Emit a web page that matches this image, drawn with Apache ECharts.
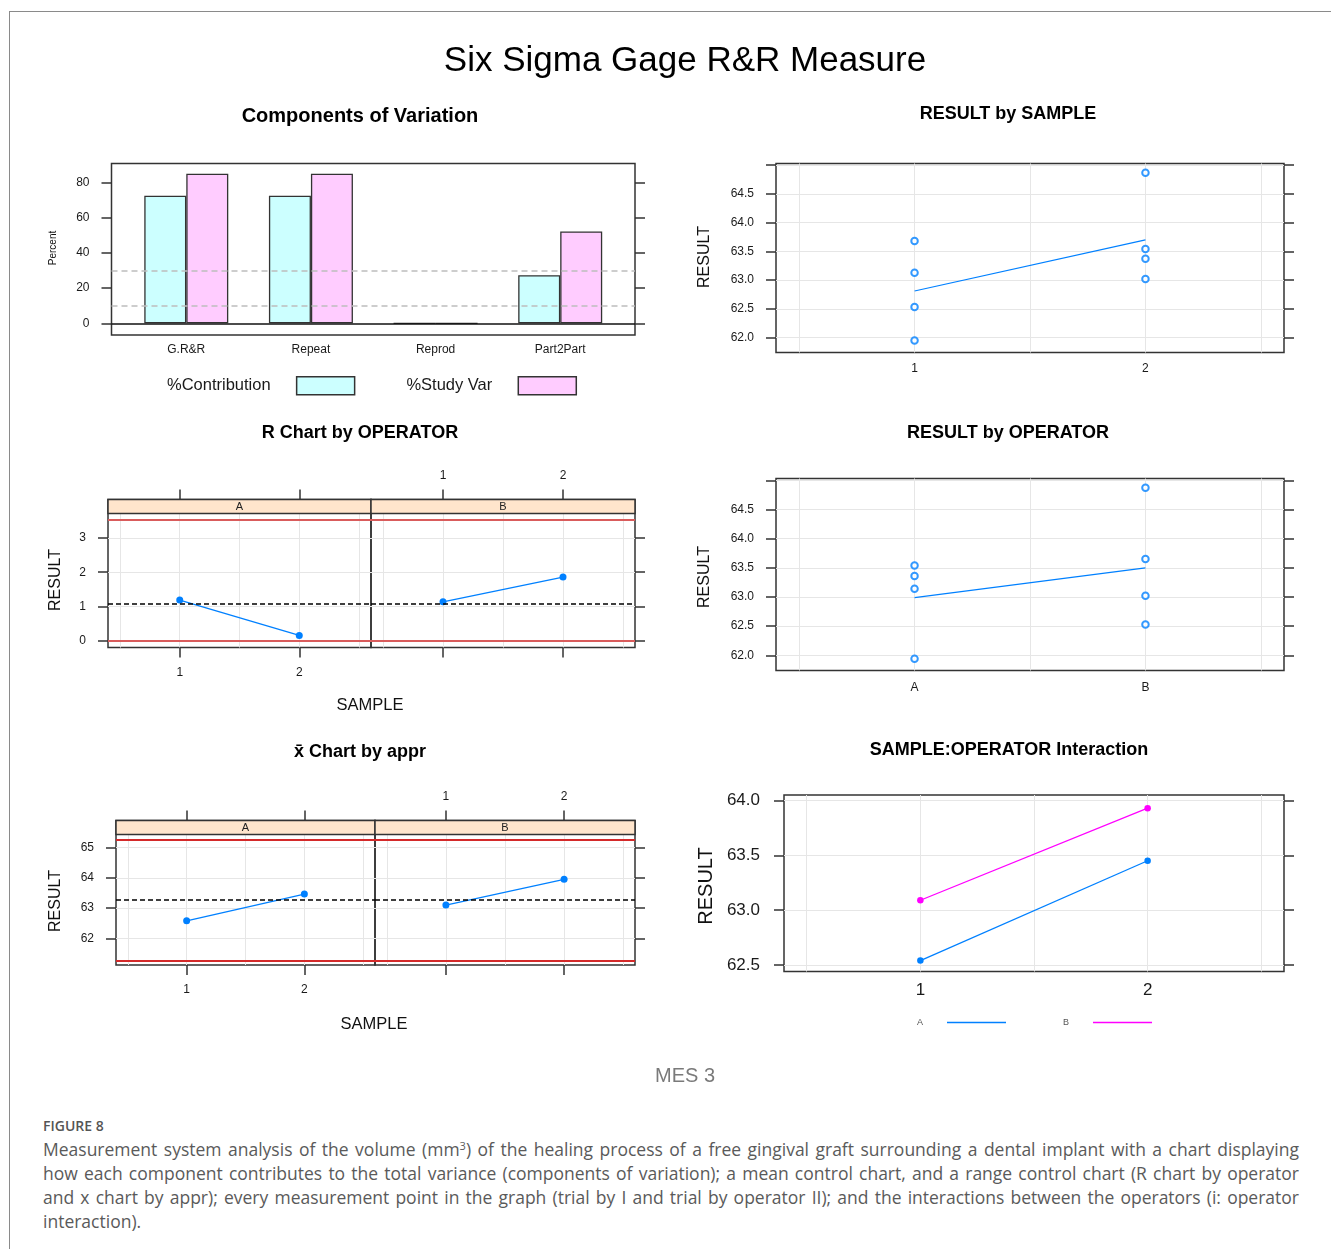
<!DOCTYPE html>
<html>
<head>
<meta charset="utf-8">
<script src="https://cdn.jsdelivr.net/npm/echarts/dist/echarts.min.js"></script>
<style>
  html, body { margin: 0; padding: 0; background: #fff; }
  body { width: 1331px; height: 1249px; position: relative; overflow: hidden; }
  #frame { position: absolute; left: 9px; top: 11px; right: -2px; bottom: -2px;
           border-top: 1px solid #8a8a8a; border-left: 1px solid #8a8a8a; }
  #chart { position: absolute; left: 0; top: 0; width: 1331px; height: 1100px; }
  #cap { position: absolute; left: 43px; top: 1116px; width: 1256px;
         font-family: 'Open Sans', 'Noto Sans', sans-serif; color: #5a5a5a; }
  #cap .fig { font-size: 14px; font-weight: 600; line-height: 20px; height: 21px; color: #555; }
  #cap .ln { font-size: 17.5px; line-height: 24px; height: 24px; text-align: justify; text-align-last: justify; }
  #cap .ln.last { text-align-last: left; }
  #cap sup { font-size: 11px; line-height: 0; vertical-align: 6px; }
</style>
</head>
<body>
<div id="frame"></div>
<div id="chart"></div>
<div id="cap">
  <div class="fig">FIGURE 8</div>
  <div class="ln">Measurement system analysis of the volume (mm<sup>3</sup>) of the healing process of a free gingival graft surrounding a dental implant with a chart displaying</div>
  <div class="ln">how each component contributes to the total variance (components of variation); a mean control chart, and a range control chart (R chart by operator</div>
  <div class="ln">and x chart by appr); every measurement point in the graph (trial by I and trial by operator II); and the interactions between the operators (i: operator</div>
  <div class="ln last">interaction).</div>
</div>
<script>
// ---------------- DATA ----------------
const componentNames = ['G.R&R', 'Repeat', 'Reprod', 'Part2Part'];
const pctContribution = [72.6, 72.6, 0, 27.4];
const pctStudyVar = [85.2, 85.2, 0, 52.3];
const percentTicks = [0, 20, 40, 60, 80];
const percentGuides = [10, 30];

const sampleLabels = ['1', '2'];
const operatorLabels = ['A', 'B'];

const sample1Results = [63.68, 63.13, 62.53, 61.95];
const sample2Results = [64.87, 63.54, 63.37, 63.02];
const sampleMeans = [62.81, 63.70];

const operatorAResults = [63.54, 63.36, 63.14, 61.94];
const operatorBResults = [64.87, 63.65, 63.02, 62.53];
const operatorMeans = [62.99, 63.50];

const resultTicks = [62.0, 62.5, 63.0, 63.5, 64.0, 64.5, 65.0];
const resultTickLabels = [62.0, 62.5, 63.0, 63.5, 64.0, 64.5];

const rangeA = [1.19, 0.16];
const rangeB = [1.14, 1.86];
const rangeLCL = 0;
const rangeCenter = 1.09;
const rangeUCL = 3.52;
const rangeTicks = [0, 1, 2, 3];

const xbarA = [62.58, 63.46];
const xbarB = [63.10, 63.95];
const xbarLCL = 61.25;
const xbarCenter = 63.27;
const xbarUCL = 65.26;
const xbarTicks = [62, 63, 64, 65];

const interactionA = [62.54, 63.45];
const interactionB = [63.09, 63.93];
const interactionTicks = [62.5, 63.0, 63.5, 64.0];

const sampleTicks = [1, 2];
const sampleGridValues = [0.5, 1, 1.5, 2, 2.5];

// ---------------- LAYOUT ----------------
const FONT = "'Liberation Sans', Arial, sans-serif";
const BLUE = '#0080ff';
const MAGENTA = '#ff00ff';
const STRIP = 14;
const G = {
  p1: { left: 111.5, top: 163.5, width: 523.5, height: 171.5 },
  p2: { left: 776, top: 163.5, width: 508, height: 189 },
  rA: { left: 108, top: 499.5, width: 263, height: 148 },
  rB: { left: 371, top: 499.5, width: 264, height: 148 },
  p4: { left: 776, top: 478.5, width: 508, height: 192 },
  xA: { left: 116, top: 820.5, width: 259, height: 144.5 },
  xB: { left: 375, top: 820.5, width: 260, height: 144.5 },
  p6: { left: 784, top: 795, width: 500, height: 176.5 }
};
const gridOrder = ['p1', 'p2', 'rA', 'rB', 'p4', 'xA', 'xB', 'p6'];
const gi = k => gridOrder.indexOf(k);

const X_EXT = [0.4, 2.6];
const P1_X = [0.4, 4.6];
const P1_Y = [-6.66, 91.0];
const RES_Y = [61.74, 65.03];
const R_Y = [-0.19, 4.117];
const XB_Y = [61.12, 65.89];
const P6_Y = [62.44, 64.05];

function ax(grid, ext, pos, o) {
  o = o || {};
  return {
    type: 'value', gridIndex: gi(grid), min: ext[0], max: ext[1], position: pos,
    axisLine: { show: false, onZero: false },
    axisTick: o.ticks ? { show: o.tickShow !== false, customValues: o.ticks, length: 10, inside: false,
                          lineStyle: { color: '#333', width: 1.5 } } : { show: false },
    axisLabel: o.labels ? { show: true, customValues: o.labels, formatter: o.fmt, margin: o.margin,
                            fontSize: o.fs || 12, color: '#1a1a1a', fontFamily: FONT } : { show: false },
    splitLine: o.split ? { show: true, lineStyle: { color: '#e6e6e6', width: 1 } } : { show: false }
  };
}
const fmt1 = v => Number(v).toFixed(1);
const fmtInt = v => String(Math.round(v));

const xAxes = [
  ax('p1', P1_X, 'bottom', { labels: [1, 2, 3, 4], fmt: v => componentNames[Math.round(v) - 1], margin: 9, fs: 12 }),   //0
  ax('p2', X_EXT, 'bottom', { ticks: sampleGridValues, tickShow: false, split: true,
                               labels: sampleTicks, fmt: v => sampleLabels[Math.round(v) - 1], margin: 10, fs: 12 }), //1
  ax('rA', X_EXT, 'bottom', { ticks: sampleTicks, labels: sampleTicks, fmt: v => sampleLabels[Math.round(v) - 1], margin: 19 }), //2
  ax('rA', X_EXT, 'top', { ticks: sampleTicks }),                                                                     //3
  ax('rA', X_EXT, 'bottom', { ticks: sampleGridValues, tickShow: false, split: true }),                                //4
  ax('rB', X_EXT, 'bottom', { ticks: sampleTicks }),                                                                   //5
  ax('rB', X_EXT, 'top', { ticks: sampleTicks, labels: sampleTicks, fmt: v => sampleLabels[Math.round(v) - 1], margin: 18 }), //6
  ax('rB', X_EXT, 'bottom', { ticks: sampleGridValues, tickShow: false, split: true }),                                //7
  ax('p4', X_EXT, 'bottom', { ticks: sampleGridValues, tickShow: false, split: true,
                               labels: sampleTicks, fmt: v => operatorLabels[Math.round(v) - 1], margin: 11, fs: 12 }), //8
  ax('xA', X_EXT, 'bottom', { ticks: sampleTicks, labels: sampleTicks, fmt: v => sampleLabels[Math.round(v) - 1], margin: 19 }), //9
  ax('xA', X_EXT, 'top', { ticks: sampleTicks }),                                                                      //10
  ax('xA', X_EXT, 'bottom', { ticks: sampleGridValues, tickShow: false, split: true }),                                //11
  ax('xB', X_EXT, 'bottom', { ticks: sampleTicks }),                                                                   //12
  ax('xB', X_EXT, 'top', { ticks: sampleTicks, labels: sampleTicks, fmt: v => sampleLabels[Math.round(v) - 1], margin: 18 }), //13
  ax('xB', X_EXT, 'bottom', { ticks: sampleGridValues, tickShow: false, split: true }),                                //14
  ax('p6', X_EXT, 'bottom', { ticks: sampleGridValues, tickShow: false, split: true,
                               labels: sampleTicks, fmt: v => sampleLabels[Math.round(v) - 1], margin: 10, fs: 17 })  //15
];

const yAxes = [
  ax('p1', P1_Y, 'left', { ticks: percentTicks, labels: percentTicks, fmt: fmtInt, margin: 22, fs: 12 }),   //0
  ax('p1', P1_Y, 'right', { ticks: percentTicks }),                                                          //1
  ax('p2', RES_Y, 'left', { ticks: resultTicks, labels: resultTickLabels, fmt: fmt1, margin: 22, fs: 12, split: true }), //2
  ax('p2', RES_Y, 'right', { ticks: resultTicks }),                                                          //3
  ax('rA', R_Y, 'left', { ticks: rangeTicks, labels: rangeTicks, fmt: fmtInt, margin: 22, fs: 12, split: true }), //4
  ax('rB', R_Y, 'right', { ticks: rangeTicks, split: true }),                                                //5
  ax('p4', RES_Y, 'left', { ticks: resultTicks, labels: resultTickLabels, fmt: fmt1, margin: 22, fs: 12, split: true }), //6
  ax('p4', RES_Y, 'right', { ticks: resultTicks }),                                                          //7
  ax('xA', XB_Y, 'left', { ticks: xbarTicks, labels: xbarTicks, fmt: fmtInt, margin: 22, fs: 12, split: true }), //8
  ax('xB', XB_Y, 'right', { ticks: xbarTicks, split: true }),                                                //9
  ax('p6', P6_Y, 'left', { ticks: interactionTicks, labels: interactionTicks, fmt: fmt1, margin: 24, fs: 17, split: true }), //10
  ax('p6', P6_Y, 'right', { ticks: interactionTicks })                                                       //11
];

const grids = gridOrder.map(k => Object.assign({ show: true, borderColor: '#333', borderWidth: 1.5, containLabel: false }, G[k]));

function controlLines(lcl, center, ucl, red) {
  return {
    silent: true, symbol: 'none', label: { show: false }, animation: false,
    data: [
      { yAxis: ucl, lineStyle: { color: red, width: 2, type: 'solid' } },
      { yAxis: lcl, lineStyle: { color: red, width: 2, type: 'solid' } },
      { yAxis: center, lineStyle: { color: '#000', width: 1.5, type: [5, 3] } }
    ]
  };
}
const pts = (ys) => ys.map((y, i) => [i + 1, y]);

const series = [
  { type: 'line', name: 'guides', xAxisIndex: 0, yAxisIndex: 0, data: [], z: 1,
    markLine: { silent: true, symbol: 'none', label: { show: false },
      lineStyle: { color: '#bdbdbd', width: 1.5, type: [6, 4] },
      data: percentGuides.map(v => ({ yAxis: v })) } },
  { type: 'bar', name: '%Contribution', xAxisIndex: 0, yAxisIndex: 0, z: 3, barWidth: 42, barGap: '0%',
    data: pts(pctContribution),
    itemStyle: { color: '#ccffff', borderColor: '#333', borderWidth: 1.3 },
    markLine: { silent: true, symbol: 'none', label: { show: false },
      lineStyle: { color: '#111', width: 1.5, type: 'solid' }, data: [{ yAxis: percentTicks[0] }] } },
  { type: 'bar', name: '%Study Var', xAxisIndex: 0, yAxisIndex: 0, z: 3, barWidth: 42, barGap: '0%',
    data: pts(pctStudyVar),
    itemStyle: { color: '#ffccff', borderColor: '#333', borderWidth: 1.3 } },

  { type: 'scatter', name: 'resultBySample', xAxisIndex: 1, yAxisIndex: 2, symbol: 'emptyCircle', symbolSize: 6.5,
    itemStyle: { color: BLUE, borderWidth: 1 },
    data: sample1Results.map(v => [1, v]).concat(sample2Results.map(v => [2, v])) },
  { type: 'line', name: 'sampleMean', xAxisIndex: 1, yAxisIndex: 2, showSymbol: false, symbol: 'none',
    lineStyle: { color: BLUE, width: 1.2 }, data: pts(sampleMeans) },

  { type: 'line', name: 'rangeA', xAxisIndex: 2, yAxisIndex: 4, symbol: 'circle', symbolSize: 7,
    itemStyle: { color: BLUE }, lineStyle: { color: BLUE, width: 1.3 }, data: pts(rangeA),
    markLine: controlLines(rangeLCL, rangeCenter, rangeUCL, '#d95c5c') },
  { type: 'line', name: 'rangeB', xAxisIndex: 5, yAxisIndex: 5, symbol: 'circle', symbolSize: 7,
    itemStyle: { color: BLUE }, lineStyle: { color: BLUE, width: 1.3 }, data: pts(rangeB),
    markLine: controlLines(rangeLCL, rangeCenter, rangeUCL, '#d95c5c') },

  { type: 'scatter', name: 'resultByOperator', xAxisIndex: 8, yAxisIndex: 6, symbol: 'emptyCircle', symbolSize: 6.5,
    itemStyle: { color: BLUE, borderWidth: 1 },
    data: operatorAResults.map(v => [1, v]).concat(operatorBResults.map(v => [2, v])) },
  { type: 'line', name: 'operatorMean', xAxisIndex: 8, yAxisIndex: 6, showSymbol: false, symbol: 'none',
    lineStyle: { color: BLUE, width: 1.2 }, data: pts(operatorMeans) },

  { type: 'line', name: 'xbarA', xAxisIndex: 9, yAxisIndex: 8, symbol: 'circle', symbolSize: 7,
    itemStyle: { color: BLUE }, lineStyle: { color: BLUE, width: 1.3 }, data: pts(xbarA),
    markLine: controlLines(xbarLCL, xbarCenter, xbarUCL, '#d42a2a') },
  { type: 'line', name: 'xbarB', xAxisIndex: 12, yAxisIndex: 9, symbol: 'circle', symbolSize: 7,
    itemStyle: { color: BLUE }, lineStyle: { color: BLUE, width: 1.3 }, data: pts(xbarB),
    markLine: controlLines(xbarLCL, xbarCenter, xbarUCL, '#d42a2a') },

  { type: 'line', name: 'A', xAxisIndex: 15, yAxisIndex: 10, symbol: 'circle', symbolSize: 6.5,
    color: BLUE, itemStyle: { color: BLUE }, lineStyle: { color: BLUE, width: 1.3 }, data: pts(interactionA) },
  { type: 'line', name: 'B', xAxisIndex: 15, yAxisIndex: 10, symbol: 'circle', symbolSize: 6.5,
    color: MAGENTA, itemStyle: { color: MAGENTA }, lineStyle: { color: MAGENTA, width: 1.3 }, data: pts(interactionB) }
];

// ---------------- TEXT / STRIPS ----------------
const graphics = [];
function txt(x, y, text, font, fill, rot) {
  graphics.push({ type: 'text', x: x, y: y, rotation: rot || 0, z: 100, silent: true,
    style: { text: text, font: font, fill: fill || '#000', textAlign: 'center', textVerticalAlign: 'middle',
             align: 'center', verticalAlign: 'middle' } });
}
function strip(key, label) {
  const g = G[key];
  graphics.push({ type: 'rect', z: 50, silent: true,
    shape: { x: g.left, y: g.top, width: g.width, height: STRIP },
    style: { fill: '#ffe5cc', stroke: '#333', lineWidth: 1.5 } });
  txt(g.left + g.width / 2, g.top + STRIP / 2 + 0.5, label, '11px ' + FONT, '#222');
}
strip('rA', operatorLabels[0]); strip('rB', operatorLabels[1]);
strip('xA', operatorLabels[0]); strip('xB', operatorLabels[1]);

txt(685, 61, 'Six Sigma Gage R&R Measure', '35px ' + FONT, '#000');
txt(360, 116, 'Components of Variation', 'bold 20px ' + FONT);
txt(1008, 114, 'RESULT by SAMPLE', 'bold 18px ' + FONT);
txt(360, 433, 'R Chart by OPERATOR', 'bold 18px ' + FONT);
txt(1008, 433, 'RESULT by OPERATOR', 'bold 18px ' + FONT);
txt(360, 752, 'x\u0304 Chart by appr', 'bold 18px ' + FONT);
txt(1009, 750, 'SAMPLE:OPERATOR Interaction', 'bold 18px ' + FONT);
txt(370, 705, 'SAMPLE', '16.5px ' + FONT, '#111');
txt(374, 1024, 'SAMPLE', '16.5px ' + FONT, '#111');
txt(685, 1076, 'MES 3', '20px ' + FONT, '#7a7a7a');
txt(53, 248, 'Percent', '10px ' + FONT, '#111', Math.PI / 2);
txt(705, 257, 'RESULT', '16px ' + FONT, '#111', Math.PI / 2);
txt(56, 580, 'RESULT', '16px ' + FONT, '#111', Math.PI / 2);
txt(705, 577, 'RESULT', '16px ' + FONT, '#111', Math.PI / 2);
txt(56, 901, 'RESULT', '16px ' + FONT, '#111', Math.PI / 2);
txt(706, 886, 'RESULT', '20px ' + FONT, '#111', Math.PI / 2);

const option = {
  animation: false,
  backgroundColor: 'transparent',
  grid: grids,
  xAxis: xAxes,
  yAxis: yAxes,
  legend: [
    { data: ['%Contribution', '%Study Var'], left: 167, top: 376, padding: 0, orient: 'horizontal', align: 'right',
      itemWidth: 58, itemHeight: 18, itemGap: 51, icon: 'rect', selectedMode: false,
      itemStyle: { borderColor: '#333', borderWidth: 1.5 },
      textStyle: { fontSize: 16.5, fontFamily: FONT, color: '#1a1a1a', padding: [0, 21, 0, 0] } },
    { data: ['A', 'B'], left: 917, top: 1018, padding: 0, orient: 'horizontal', align: 'right',
      itemWidth: 59, itemHeight: 1.5, itemGap: 57, icon: 'rect', selectedMode: false,
      itemStyle: { borderWidth: 0 },
      textStyle: { fontSize: 9, fontFamily: FONT, color: '#555', padding: [0, 19, 0, 0] } }
  ],
  graphic: graphics,
  series: series
};

const chart = echarts.init(document.getElementById('chart'), null, { renderer: 'canvas' });
chart.setOption(option);
</script>
</body>
</html>
